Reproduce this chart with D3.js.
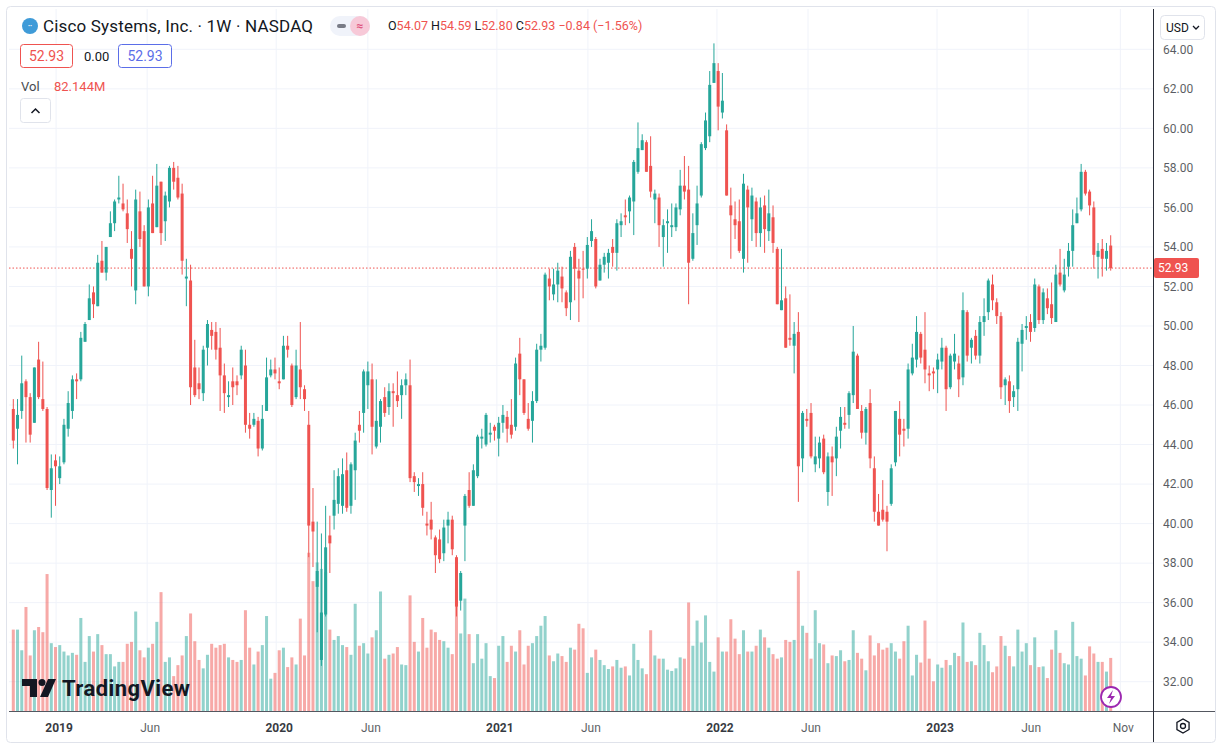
<!DOCTYPE html>
<html>
<head>
<meta charset="utf-8">
<script src="https://cdn.jsdelivr.net/npm/d3@7"></script>
<style>
  body { margin: 0; background: #fff; font-family: Roboto, "Noto Sans", sans-serif; }
  svg text { font-family: Roboto, "Noto Sans", sans-serif; }
</style>
</head>
<body>
<svg id="chart" width="1217" height="751"></svg>
<script>
// weekly CSCO candles
const open = [
  45.8,44.8,45.7,47.2,46.4,45.1,48.3,46.3,45.8,41.7, 43.2,42.3,43.1,44.8,45.7,47.3,47.3,49.2,50.3,51.7,
  51.0,53.3,52.7,54.5,55.2,56.4,56.2,55.7,53.9,51.8, 55.8,54.8,52.0,56.2,55.0,57.3,55.3,56.3,58.0,57.5,
  56.7,52.4,52.3,47.9,47.1,46.6,48.9,49.8,49.7,48.9, 47.5,46.4,47.2,47.2,47.5,48.0,45.0,45.0,45.2,43.8,
  45.7,47.5,47.8,47.2,47.3,49.0,48.0,46.4,47.8,46.8, 45.0,40.1,36.8,33.1,35.4,39.4,40.4,41.0,40.9,42.7,
  40.9,42.7,45.0,45.6,47.0,47.3,43.9,44.9,46.4,45.9, 46.7,46.5,46.5,47.0,47.0,42.4,41.9,42.0,40.0,40.2,
  39.3,39.2,38.5,39.9,40.2,38.3,36.1,39.9,41.7,40.9, 42.4,44.3,44.0,44.5,44.9,44.3,45.1,45.4,45.0,44.9,
  48.6,47.3,45.3,45.2,46.2,48.8,48.9,52.4,51.6,52.1, 52.5,51.7,51.2,54.0,52.8,52.9,52.9,54.3,54.4,52.3,
  53.1,53.2,54.0,53.7,55.1,55.6,55.8,56.3,57.8,58.9, 59.3,58.1,56.4,56.5,54.5,55.2,55.0,55.0,55.9,57.1,
  56.9,53.4,55.1,56.6,59.0,59.6,62.3,62.9,60.8,59.9, 56.1,55.4,55.3,53.4,56.9,55.4,56.3,54.7,56.1,54.8,
  55.5,53.9,50.8,51.4,49.4,49.0,49.7,43.3,45.3,45.6, 43.0,43.3,44.3,41.6,43.4,43.3,44.7,45.1,45.5,46.5,
  48.5,45.7,44.6,46.1,42.8,40.6,40.7,40.6,41.0,43.1, 45.3,44.8,44.8,47.6,48.3,49.6,48.8,47.6,47.7,47.8,
  48.2,48.9,46.9,48.2,48.1,47.4,50.7,48.9,49.5,48.5, 50.2,50.7,52.1,51.2,50.5,47.0,47.2,46.4,46.8,49.1,
  49.9,50.2,49.9,52.0,50.3,51.4,51.1,50.2,52.7,51.8, 53.0,53.8,55.2,55.9,57.8,56.8,56.0,53.5,53.9,53.4,54.07
];
const high = [
  46.3,46.3,48.5,47.3,46.6,47.9,49.2,48.2,45.9,43.5, 43.5,43.4,45.3,46.7,47.5,47.6,49.7,50.2,52.1,52.0,
  53.6,54.3,54.0,55.8,56.4,57.6,57.2,56.4,54.8,56.9, 56.8,55.1,56.4,57.6,58.2,57.3,56.8,58.1,58.3,58.1,
  57.2,53.4,53.1,49.3,47.9,49.0,50.3,50.2,50.2,49.9, 48.1,47.2,47.9,47.5,49.0,48.8,45.6,45.6,45.4,46.0,
  48.4,48.3,48.4,47.9,49.5,49.5,48.1,48.8,50.2,47.0, 45.7,41.8,40.1,39.5,40.9,40.4,42.7,42.8,43.3,43.6,
  43.1,44.6,45.7,47.8,48.2,48.1,47.3,46.3,46.9,47.1, 47.1,47.7,47.3,47.6,48.3,42.6,42.3,42.6,40.6,41.1,
  39.4,39.7,40.2,40.6,40.4,38.4,37.6,41.5,42.6,43.0, 44.5,44.8,45.6,45.1,45.0,45.4,46.0,45.7,46.3,48.4,
  49.4,47.3,46.1,46.7,49.1,49.6,52.7,52.9,52.9,53.2, 53.0,51.8,53.8,54.2,53.4,53.8,54.5,55.4,54.5,53.4,
  53.7,53.9,54.4,55.4,55.7,56.4,56.6,58.4,60.3,59.7, 59.4,59.6,56.9,56.7,55.4,55.9,56.2,56.2,57.9,58.6,
  58.1,55.7,57.1,59.3,60.8,62.9,64.3,63.3,62.8,60.2, 57.0,56.3,56.4,57.7,57.1,57.0,56.5,56.5,56.6,56.9,
  56.1,54.0,53.9,52.0,51.6,50.2,50.7,45.7,45.8,46.1, 44.4,44.4,44.5,43.6,43.9,44.9,45.9,45.9,46.7,50.0,
  48.6,46.0,45.9,46.8,43.4,41.5,42.2,40.9,43.0,45.7, 46.2,45.3,48.1,49.1,50.5,49.7,50.7,48.0,47.9,48.6,
  49.4,49.0,48.6,49.6,48.5,51.7,50.8,49.4,49.8,50.5, 51.4,52.4,52.6,51.4,50.7,47.4,47.5,47.0,49.4,50.1,
  50.5,50.6,52.4,52.1,51.9,51.9,52.2,53.1,53.9,53.4, 54.2,55.9,56.5,58.2,57.9,56.9,56.3,54.2,54.4,54.2,54.59
];
const low = [
  43.8,43.0,45.3,44.1,44.1,45.1,46.3,45.7,41.7,40.3, 40.9,42.0,43.0,44.4,45.3,46.3,47.2,49.2,50.3,50.4,
  51.0,52.7,52.3,54.5,54.8,56.2,55.8,54.2,52.0,51.1, 54.0,52.0,51.5,54.7,55.0,54.1,54.3,56.0,56.9,56.4,
  52.6,51.0,46.0,46.4,46.3,46.2,48.0,48.8,48.3,45.7, 45.6,45.9,46.0,46.5,47.3,44.6,44.3,44.9,43.4,43.7,
  45.7,47.4,47.3,46.8,47.3,48.4,45.9,46.3,46.3,45.7, 38.3,37.8,34.5,32.8,35.3,37.5,39.7,40.5,40.5,40.6,
  40.5,41.2,44.1,44.6,45.8,43.5,43.8,44.1,45.4,45.5, 44.9,45.9,45.3,46.5,42.1,41.6,41.4,40.4,39.4,39.2,
  37.5,38.0,38.1,39.0,38.4,35.3,35.6,38.1,40.8,40.9, 42.3,43.8,43.9,44.1,44.2,43.4,44.6,44.1,44.3,44.7,
  46.5,45.5,44.7,44.1,46.1,48.2,48.8,51.3,51.3,51.2, 51.2,50.5,50.3,51.3,50.2,51.4,52.4,54.0,51.9,52.3,
  52.7,52.4,53.0,52.8,54.5,55.1,55.2,54.6,57.7,58.9, 57.8,56.5,55.2,54.0,53.0,53.7,54.5,54.8,55.6,56.4,
  51.1,53.3,54.1,56.5,58.9,59.3,62.3,59.9,60.5,56.6, 53.4,54.4,53.7,52.7,53.2,54.3,54.0,54.0,53.7,54.3,
  53.7,51.1,50.8,48.9,49.0,47.6,41.1,42.6,44.9,43.3, 42.6,42.8,42.5,40.9,41.4,42.4,43.8,44.8,44.8,46.1,
  45.8,44.3,44.0,42.8,40.1,39.9,40.1,38.6,40.9,42.9, 43.4,43.9,44.3,47.5,47.9,48.1,47.1,46.7,46.8,46.6,
  47.8,45.7,46.8,47.8,46.4,47.0,48.2,48.1,48.3,48.1, 49.5,50.3,50.8,50.1,46.3,46.0,45.6,45.9,45.7,47.7,
  49.3,49.2,49.7,50.1,50.1,50.6,50.1,50.2,52.0,51.7, 52.5,53.0,55.2,55.8,56.6,55.6,52.9,52.4,52.5,52.8,52.80
];
const close = [
  44.2,45.5,47.1,46.4,44.5,47.9,46.4,45.8,41.8,42.8, 42.9,42.9,45.0,46.1,47.3,47.2,49.4,50.1,51.4,51.1,
  53.2,52.7,54.0,55.2,56.3,56.5,55.9,54.9,53.4,56.4, 54.4,52.0,56.0,54.7,57.1,54.7,56.6,58.0,57.3,56.5,
  53.3,52.5,46.9,46.5,46.8,48.8,50.1,49.5,48.8,47.5, 46.6,46.5,46.9,47.0,48.8,45.0,44.8,45.3,43.8,45.3,
  47.4,47.8,47.6,47.1,49.0,48.8,46.0,48.0,46.9,46.3, 39.9,39.6,37.6,35.5,38.8,39.0,41.2,42.4,42.5,40.8,
  43.0,44.2,44.7,47.7,47.7,44.9,45.2,46.2,45.6,46.7, 46.6,46.2,47.0,47.3,42.3,42.1,42.0,40.8,39.9,39.7,
  38.4,38.2,39.8,40.2,38.7,35.8,37.5,41.4,40.9,42.7, 44.4,44.4,45.5,44.6,44.7,45.1,45.5,44.8,44.5,48.1,
  47.3,45.6,44.8,46.2,48.8,49.0,52.6,52.0,52.1,52.8, 51.9,50.9,53.5,52.9,52.4,52.85,54.1,54.8,52.0,53.1,
  53.5,53.7,53.7,55.2,55.3,55.5,56.5,58.3,59.0,59.4, 57.8,56.8,56.7,55.1,55.1,55.3,55.1,56.0,57.1,56.8,
  53.2,54.7,56.2,59.2,60.4,62.2,63.3,61.1,61.4,56.6, 55.6,55.1,53.8,57.2,56.0,56.6,54.7,56.0,54.9,55.7,
  54.2,51.1,51.3,48.9,49.3,49.6,42.9,45.6,45.2,43.4, 43.4,44.1,42.6,43.4,43.1,44.4,45.4,45.0,46.6,48.7,
  45.8,44.6,45.8,43.3,40.6,39.9,40.2,40.1,42.8,45.7, 44.5,44.7,47.8,48.4,49.7,48.4,47.8,47.5,47.6,48.3,
  48.9,46.8,48.5,48.6,47.3,50.8,48.5,49.3,48.5,50.2, 50.5,52.3,51.3,50.5,46.9,47.3,46.2,46.7,49.2,49.8,
  50.0,49.7,52.1,50.3,51.7,50.9,50.4,52.6,52.1,52.6, 53.8,55.1,55.7,57.8,56.7,56.1,53.6,53.8,53.4,53.8,52.93
];
// volume, millions of shares
const volume = [
  126,126,94,161,86,125,130,122,212,105, 99,102,92,86,90,87,144,76,116,92,
  119,102,88,88,69,76,76,104,107,154, 94,83,98,104,138,184,76,83,54,71,
  86,116,151,108,79,66,87,104,98,102, 104,83,79,76,79,156,98,72,92,102,
  147,50,59,94,98,68,83,72,143,86, 245,201,230,220,215,126,110,116,102,99,
  87,166,101,105,89,114,125,185,81,87, 89,99,72,71,179,107,92,144,98,126,
  122,110,108,98,88,190,120,174,119,74, 119,81,105,54,51,101,116,76,101,92,
  125,72,101,105,116,132,147,86,77,89, 85,76,98,95,135,128,59,83,95,79,
  71,65,69,79,67,69,55,104,79,66, 57,125,86,81,81,64,62,66,83,81,
  168,101,140,106,148,76,61,114,92,92, 142,112,88,125,92,92,101,126,114,98,
  88,81,83,110,107,110,217,132,121,81, 156,105,103,74,86,85,94,77,79,125,
  90,81,63,117,86,105,95,98,105,92, 81,108,132,55,87,75,140,81,46,72,
  67,79,71,90,85,137,76,77,71,121, 102,77,60,69,116,101,85,69,126,92,
  105,71,114,68,69,51,95,125,90,74, 72,138,85,81,55,100,89,76,76,61,82.144
];
const priceTicks = d3.range(32, 65, 2);
const timeTicks = [
  { date: '2019-01-01', label: '2019', year: true },
  { date: '2019-06-01', label: 'Jun' },
  { date: '2020-01-01', label: '2020', year: true },
  { date: '2020-06-01', label: 'Jun' },
  { date: '2021-01-01', label: '2021', year: true },
  { date: '2021-06-01', label: 'Jun' },
  { date: '2022-01-01', label: '2022', year: true },
  { date: '2022-06-01', label: 'Jun' },
  { date: '2023-01-01', label: '2023', year: true },
  { date: '2023-06-01', label: 'Jun' },
  { date: '2023-11-01', label: 'Nov' },
];

const C = {
  up: '#26a69a', down: '#ef5350', grid: '#f0f3fa', text: '#131722',
  paneRight: 1153, paneBottom: 711, paneLeft: 9, paneTop: 9,
};

const parse = d3.utcParse('%Y-%m-%d');
const weeks = d3.utcMonday.range(parse('2018-10-22'), parse('2023-10-17'));
const data = weeks.map((d, i) => ({
  date: d, o: open[i], h: high[i], l: low[i], c: close[i], v: volume[i],
}));

const x = d3.scaleUtc().domain([weeks[0], weeks[weeks.length - 1]]).range([13.3, 1110.7]);
const y = d3.scaleLinear().domain([32, 64]).range([681.7, 49.3]);
const yv = d3.scaleLinear().domain([0, 100]).range([C.paneBottom, C.paneBottom - 64.6]);

const svg = d3.select('#chart');

// frame
svg.append('rect').attr('x', 6.5).attr('y', 6.5).attr('width', 1209).attr('height', 736)
  .attr('rx', 4).attr('fill', 'none').attr('stroke', '#e0e3eb');

const grid = svg.append('g');
grid.selectAll('.hg').data(priceTicks).enter().append('line')
  .attr('x1', C.paneLeft).attr('x2', C.paneRight)
  .attr('y1', d => y(d)).attr('y2', d => y(d))
  .attr('stroke', C.grid);
grid.selectAll('.vg').data(timeTicks).enter().append('line')
  .attr('x1', d => x(parse(d.date))).attr('x2', d => x(parse(d.date)))
  .attr('y1', C.paneTop).attr('y2', C.paneBottom)
  .attr('stroke', C.grid);

// volume
svg.append('g').selectAll('rect').data(data).enter().append('rect')
  .attr('x', d => x(d.date) - 1.5).attr('width', 3)
  .attr('y', d => yv(d.v)).attr('height', d => C.paneBottom - yv(d.v))
  .attr('fill', d => (d.c >= d.o ? C.up : C.down)).attr('opacity', 0.5);

// last price line
svg.append('line').attr('x1', C.paneLeft).attr('x2', C.paneRight)
  .attr('y1', y(52.93)).attr('y2', y(52.93))
  .attr('stroke', C.down).attr('stroke-dasharray', '1.5,2');

// candles
const cg = svg.append('g').selectAll('g').data(data).enter().append('g')
  .attr('fill', d => (d.c >= d.o ? C.up : C.down))
  .attr('stroke', d => (d.c >= d.o ? C.up : C.down));
cg.append('line')
  .attr('x1', d => x(d.date)).attr('x2', d => x(d.date))
  .attr('y1', d => y(d.h)).attr('y2', d => y(d.l)).attr('stroke-width', 1);
cg.append('rect')
  .attr('x', d => x(d.date) - 1.5).attr('width', 3).attr('stroke', 'none')
  .attr('y', d => y(Math.max(d.o, d.c)))
  .attr('height', d => Math.max(1, Math.abs(y(d.o) - y(d.c))));

// axes frame
svg.append('line').attr('x1', C.paneRight + 0.5).attr('x2', C.paneRight + 0.5)
  .attr('y1', C.paneTop).attr('y2', 742).attr('stroke', '#2a2e39').attr('stroke-width', 1);
svg.append('line').attr('x1', C.paneLeft).attr('x2', 1215)
  .attr('y1', C.paneBottom + 0.5).attr('y2', C.paneBottom + 0.5).attr('stroke', '#2a2e39').attr('opacity', 0.8);

// price axis
svg.append('g').selectAll('text').data(priceTicks).enter().append('text')
  .attr('x', 1163).attr('y', d => y(d)).attr('dy', '0.35em')
  .attr('font-size', 12).attr('fill', C.text).attr('opacity', 0.7)
  .text(d => d3.format('.2f')(d));
svg.append('rect').attr('x', 1154).attr('y', y(52.93) - 10).attr('width', 45).attr('height', 20)
  .attr('rx', 2).attr('fill', C.down);
svg.append('text').attr('x', 1158).attr('y', y(52.93)).attr('dy', '0.35em')
  .attr('font-size', 12).attr('fill', '#fff').text('52.93');
svg.append('rect').attr('x', 1160.5).attr('y', 15.5).attr('width', 44).attr('height', 24)
  .attr('rx', 4).attr('fill', '#fff').attr('stroke', '#e0e3eb');
svg.append('text').attr('x', 1166).attr('y', 28).attr('dy', '0.35em')
  .attr('font-size', 12).attr('fill', C.text).text('USD');
svg.append('path').attr('d', 'M1193 26 l3 3 l3 -3').attr('fill', 'none').attr('stroke', C.text).attr('stroke-width', 1.3);

// time axis
svg.append('g').selectAll('text').data(timeTicks).enter().append('text')
  .attr('x', d => x(parse(d.date)) + 3).attr('y', 728).attr('dy', '0.35em')
  .attr('text-anchor', 'middle').attr('font-size', 12)
  .attr('font-weight', d => (d.year ? 'bold' : 'normal'))
  .attr('fill', C.text).attr('opacity', d => (d.year ? 0.85 : 0.7))
  .text(d => d.label);
// settings gear
svg.append('path').attr('transform', 'translate(1183,726)')
  .attr('d', d3.range(7).map(i => {
    const a = (Math.PI / 3) * i + Math.PI / 6;
    return (i ? 'L' : 'M') + (7 * Math.cos(a)).toFixed(2) + ',' + (7 * Math.sin(a)).toFixed(2);
  }).join('') + 'Z')
  .attr('fill', 'none').attr('stroke', C.text).attr('stroke-width', 1.3);
svg.append('circle').attr('cx', 1183).attr('cy', 726).attr('r', 2.5)
  .attr('fill', 'none').attr('stroke', C.text).attr('stroke-width', 1.3);

// header legend
svg.append('circle').attr('cx', 30).attr('cy', 26).attr('r', 8).attr('fill', '#3f9bd8');
svg.append('text').attr('x', 30).attr('y', 26).attr('dy', '0.3em').attr('text-anchor', 'middle')
  .attr('font-size', 6).attr('fill', '#fff').text('••');
svg.append('text').attr('x', 43).attr('y', 26).attr('dy', '0.35em').attr('font-size', 17)
  .attr('fill', C.text).attr('textLength', 270).text('Cisco Systems, Inc. · 1W · NASDAQ');
svg.append('rect').attr('x', 330).attr('y', 16).attr('width', 40).attr('height', 20).attr('rx', 10).attr('fill', '#f0f3fa');
svg.append('rect').attr('x', 350).attr('y', 16).attr('width', 20).attr('height', 20).attr('rx', 10).attr('fill', '#f7c9d8');
svg.append('rect').attr('x', 337).attr('y', 24).attr('width', 9).attr('height', 4).attr('rx', 2).attr('fill', '#787b86');
svg.append('text').attr('x', 360).attr('y', 26).attr('dy', '0.35em').attr('text-anchor', 'middle')
  .attr('font-size', 12).attr('font-weight', 'bold').attr('fill', '#e0557f').text('≈');

const ohlc = svg.append('text').attr('x', 388).attr('y', 26).attr('dy', '0.35em').attr('font-size', 12.5);
[['O', '54.07'], ['H', '54.59'], ['L', '52.80'], ['C', '52.93']].forEach(([k, v]) => {
  ohlc.append('tspan').attr('fill', C.text).text(k);
  ohlc.append('tspan').attr('fill', C.down).text(v + ' ');
});
ohlc.append('tspan').attr('fill', C.down).text('−0.84 (−1.56%)');

svg.append('rect').attr('x', 20.5).attr('y', 44.5).attr('width', 52).attr('height', 23).attr('rx', 3)
  .attr('fill', '#fff').attr('stroke', C.down);
svg.append('text').attr('x', 46.5).attr('y', 56).attr('dy', '0.35em').attr('text-anchor', 'middle')
  .attr('font-size', 14).attr('fill', C.down).text('52.93');
svg.append('text').attr('x', 84).attr('y', 56).attr('dy', '0.35em')
  .attr('font-size', 13).attr('fill', C.text).text('0.00');
svg.append('rect').attr('x', 118.5).attr('y', 44.5).attr('width', 53).attr('height', 23).attr('rx', 3)
  .attr('fill', '#fff').attr('stroke', '#5b6ee8');
svg.append('text').attr('x', 145).attr('y', 56).attr('dy', '0.35em').attr('text-anchor', 'middle')
  .attr('font-size', 14).attr('fill', '#5b6ee8').text('52.93');

svg.append('text').attr('x', 21).attr('y', 86).attr('dy', '0.35em').attr('font-size', 13)
  .attr('fill', C.text).attr('opacity', 0.8).text('Vol');
svg.append('text').attr('x', 54).attr('y', 86).attr('dy', '0.35em').attr('font-size', 13)
  .attr('fill', C.down).text('82.144M');
svg.append('rect').attr('x', 20.5).attr('y', 98.5).attr('width', 30).attr('height', 24).attr('rx', 3)
  .attr('fill', '#fff').attr('stroke', '#e0e3eb');
svg.append('path').attr('d', 'M31.5 113 l4 -4 l4 4').attr('fill', 'none').attr('stroke', C.text).attr('stroke-width', 1.5);

// TradingView watermark
const wm = svg.append('g').attr('transform', 'translate(22,679)');
wm.append('path').attr('d', 'M0 0 H15 V18 H8 V7 H0 Z').attr('fill', C.text);
wm.append('circle').attr('cx', 20).attr('cy', 3.5).attr('r', 3.5).attr('fill', C.text);
wm.append('path').attr('d', 'M26 0 H34 L26 18 H18 Z').attr('fill', C.text);
wm.append('text').attr('x', 40).attr('y', 9.5).attr('dy', '0.35em').attr('font-size', 22)
  .attr('font-weight', 'bold').attr('fill', C.text).attr('textLength', 128).text('TradingView');

// lightning badge
svg.append('circle').attr('cx', 1111).attr('cy', 697).attr('r', 10)
  .attr('fill', '#fff').attr('stroke', '#9c27b0').attr('stroke-width', 1.8);
svg.append('path').attr('d', 'M1113 690 L1107 698 H1111 L1109 704 L1115 696 H1111 Z').attr('fill', '#9c27b0');
</script>
</body>
</html>
